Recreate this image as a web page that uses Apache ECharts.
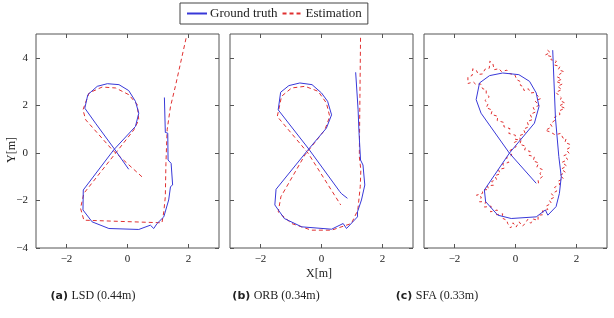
<!DOCTYPE html>
<html><head><meta charset="utf-8">
<script src="https://cdn.jsdelivr.net/npm/echarts@6/dist/echarts.min.js"></script>
<style>html,body{margin:0;padding:0;background:#fff}#c{width:614px;height:318px}</style>
</head><body><div id="c"></div>
<script>
var xTicks = [-2, 0, 2];
var yTicks = [-4, -2, 0, 2, 4];
var captions = [['(a)', 'LSD (0.44m)'], ['(b)', 'ORB (0.34m)'], ['(c)', 'SFA (0.33m)']];

var lsdTruth = [[1.21,2.33],[1.24,0.86],[1.32,0.83],[1.33,-0.3],[1.43,-0.44],[1.48,-1.35],[1.41,-1.42],[1.35,-1.98],[1.19,-2.69],[0.97,-2.97],[0.86,-3.18],[0.75,-3.04],[0.37,-3.22],[-0.61,-3.18],[-1.16,-2.9],[-1.46,-2.4],[-1.45,-1.56],[-0.45,0.13],[0.26,1.11],[0.37,1.67],[0.26,2.17],[0.04,2.62],[-0.28,2.87],[-0.66,2.91],[-0.99,2.8],[-1.3,2.45],[-1.4,1.88],[-1.05,1.25],[-0.45,0.2],[0.04,-0.69]];
var lsdEst = [[1.92,4.82],[1.57,2.8],[1.41,1.95],[1.3,0.97],[1.26,-0.44],[1.24,-1.84],[1.19,-2.48],[1.13,-2.94],[-1.43,-2.83],[-1.54,-2.33],[-1.43,-1.7],[-0.39,-0.01],[0.21,0.97],[0.37,1.39],[0.32,2.03],[0.04,2.45],[-0.39,2.73],[-0.83,2.77],[-1.26,2.52],[-1.46,1.81],[-1.37,1.39],[-0.5,0.13],[0.53,-1.07]];
var orbTruth = [[1.12,3.39],[1.2,1.81],[1.23,0.86],[1.29,0.86],[1.28,-0.3],[1.36,-0.51],[1.42,-1.35],[1.31,-1.98],[1.18,-2.48],[1.18,-2.69],[0.82,-3.18],[0.71,-2.97],[0.33,-3.21],[-0.65,-3.11],[-1.22,-2.76],[-1.53,-2.19],[-1.49,-1.53],[-0.46,0.1],[0.16,1.04],[0.33,1.6],[0.2,2.17],[0,2.52],[-0.31,2.87],[-0.71,2.94],[-1.07,2.83],[-1.34,2.55],[-1.42,1.81],[-0.44,0.2],[0.6,-1.63],[0.66,-1.72],[0.68,-1.7],[0.85,-1.91]];
var orbEst = [[1.28,4.84],[1.26,2.38],[1.24,-0.15],[1.29,-0.72],[1.27,-1.42],[1.19,-2.41],[0.98,-2.97],[0.33,-3.25],[-0.33,-3.25],[-0.98,-2.97],[-1.42,-2.48],[-1.33,-1.84],[-0.54,-0.08],[0.11,0.97],[0.27,1.53],[0.16,2.1],[-0.11,2.59],[-0.54,2.8],[-0.98,2.73],[-1.31,2.38],[-1.45,1.53],[-0.44,-0.01],[0.63,-2.19]];
var sfaTruth = [[1.22,4.32],[1.31,1.46],[1.34,1.44],[1.42,-0.15],[1.5,-1.0],[1.44,-1.7],[1.33,-2.26],[1.06,-2.62],[0.98,-2.4],[0.68,-2.69],[-0.14,-2.76],[-0.58,-2.62],[-0.98,-2.05],[-1.02,-1.56],[-1.07,-1.49],[-0.2,-0.01],[0.62,1.25],[0.77,1.95],[0.68,2.52],[0.46,3.01],[0.11,3.29],[-0.42,3.36],[-0.85,3.25],[-1.18,2.94],[-1.29,2.24],[-1.13,1.67],[-0.2,-0.01],[0.68,-1.28]];
var sfaEst = [[1.05,4.32],[1.14,4.22],[0.98,4.12],[1.2,4.04],[1.16,3.92],[1.34,3.86],[1.26,3.7],[1.46,3.64],[1.4,3.5],[1.58,3.42],[1.44,3.3],[1.36,3.2],[1.52,3.1],[1.34,3.0],[1.54,2.9],[1.38,2.8],[1.52,2.66],[1.32,2.55],[1.42,2.42],[1.5,2.32],[1.46,2.2],[1.62,2.1],[1.44,1.98],[1.62,1.88],[1.42,1.76],[1.46,1.62],[1.28,1.5],[1.32,1.4],[1.14,1.22],[1.2,1.1],[0.98,0.95],[1.14,0.88],[1.3,0.76],[1.48,0.82],[1.56,0.62],[1.66,0.6],[1.62,0.44],[1.78,0.36],[1.76,0.2],[1.66,0.14],[1.76,-0.02],[1.58,-0.12],[1.72,-0.28],[1.52,-0.4],[1.68,-0.55],[1.5,-0.68],[1.64,-0.82],[1.44,-0.95],[1.58,-1.08],[1.38,-1.2],[1.46,-1.32],[1.28,-1.45],[1.36,-1.6],[1.18,-1.72],[1.28,-1.86],[1.1,-1.98],[1.18,-2.12],[1.0,-2.24],[1.06,-2.38],[0.88,-2.44],[0.92,-2.6],[0.74,-2.62],[0.74,-2.84],[0.58,-2.78],[0.5,-2.96],[0.4,-2.8],[0.3,-3.0],[0.22,-3.08],[0.12,-2.9],[0.02,-3.12],[-0.08,-2.94],[-0.16,-3.16],[-0.26,-2.96],[-0.28,-2.84],[-0.44,-2.74],[-0.42,-2.56],[-0.62,-2.6],[-0.6,-2.4],[-0.82,-2.48],[-0.8,-2.24],[-1.02,-2.28],[-0.98,-2.04],[-1.18,-2.06],[-1.12,-1.86],[-1.28,-1.78],[-1.08,-1.7],[-1.08,-1.56],[-0.88,-1.54],[-0.92,-1.38],[-0.72,-1.36],[-0.78,-1.2],[-0.62,-1.12],[-0.68,-0.96],[-0.5,-0.88],[-0.56,-0.7],[-0.36,-0.64],[-0.42,-0.46],[-0.22,-0.4],[-0.3,-0.2],[-0.12,-0.1],[-0.18,0.1],[0.02,0.26],[-0.04,0.44],[0.16,0.56],[0.12,0.72],[0.32,0.82],[0.26,1.0],[0.44,1.1],[0.38,1.32],[0.56,1.4],[0.48,1.62],[0.66,1.72],[0.58,1.9],[0.78,2.0],[0.64,2.18],[0.82,2.28],[0.7,2.44],[0.62,2.54],[0.5,2.52],[0.42,2.7],[0.28,2.62],[0.24,2.8],[0.16,2.84],[0.16,3.0],[0.04,3.08],[-0.02,3.28],[-0.2,3.34],[-0.28,3.48],[-0.46,3.42],[-0.54,3.54],[-0.7,3.5],[-0.74,3.74],[-0.84,3.86],[-0.86,3.56],[-1.0,3.52],[-1.08,3.32],[-1.22,3.3],[-1.28,3.46],[-1.4,3.54],[-1.42,3.26],[-1.56,3.18],[-1.56,2.92],[-1.5,3.0],[-1.38,2.98],[-1.3,2.88],[-1.14,2.9],[-1.08,2.7],[-0.96,2.66],[-0.96,2.46],[-0.86,2.36],[-1.0,2.2],[-0.9,2.06],[-0.96,1.9],[-0.76,1.8],[-0.8,1.62],[-0.58,1.54],[-0.6,1.36],[-0.38,1.28],[-0.38,1.1],[-0.18,1.02],[-0.22,0.82],[0.0,0.74],[-0.02,0.58],[0.18,0.52],[0.14,0.36],[0.34,0.28],[0.3,0.12],[0.48,0.06],[0.44,-0.1],[0.62,-0.16],[0.58,-0.34],[0.76,-0.42],[0.7,-0.6],[0.88,-0.7],[0.8,-0.88],[0.9,-0.98],[0.74,-1.14],[0.76,-1.32]];

var truths = [lsdTruth, orbTruth, sfaTruth];
var ests = [lsdEst, orbEst, sfaEst];

var SERIF = '"Liberation Serif", "DejaVu Serif", serif';
var AX = '#555';
var lefts = [36, 230, 424];
function fmt(v){ return v < 0 ? '\u2212' + Math.abs(v) : String(v); }

var grids = [], xAxes = [], yAxes = [], series = [];
for (var i = 0; i < 3; i++) {
  grids.push({left: lefts[i], top: 34, width: 183, height: 214, show: true, borderColor: AX, borderWidth: 1, backgroundColor: 'transparent'});
  [false, true].forEach(function(top){
    xAxes.push({type: 'value', gridIndex: i, min: -3, max: 3, position: top ? 'top' : 'bottom',
      axisLine: {show: false, onZero: false}, splitLine: {show: false},
      axisTick: {show: true, inside: true, length: 4, lineStyle: {color: AX}, customValues: xTicks},
      axisLabel: {show: !top, customValues: xTicks, formatter: fmt, fontFamily: SERIF, fontSize: 11, color: '#222', margin: 6}});
    yAxes.push({type: 'value', gridIndex: i, min: -4, max: 5, position: top ? 'right' : 'left',
      axisLine: {show: false, onZero: false}, splitLine: {show: false},
      axisTick: {show: true, inside: true, length: 4, lineStyle: {color: AX}, customValues: yTicks},
      axisLabel: {show: (!top && i === 0), customValues: yTicks, formatter: fmt, fontFamily: SERIF, fontSize: 11, color: '#222', margin: 8}});
  });
  series.push({name: 'Ground truth', type: 'line', xAxisIndex: 2*i, yAxisIndex: 2*i, data: truths[i],
    showSymbol: false, symbol: 'none', lineStyle: {color: '#3838d8', width: 1}, itemStyle: {color: '#3838d8'}, animation: false, z: 3});
  series.push({name: 'Estimation', type: 'line', xAxisIndex: 2*i, yAxisIndex: 2*i, data: ests[i],
    showSymbol: false, symbol: 'none', lineStyle: {color: '#e03030', width: 1, type: i === 2 ? [3, 3] : [4, 3]}, itemStyle: {color: '#e03030'}, animation: false, z: 2});
}

var capCenters = [93, 276, 437];
var graphics = [
  {type: 'text', left: 321 - 15, top: 268, style: {text: 'X[m]', font: '12px ' + SERIF, fill: '#222'}},
  {type: 'text', x: 12, y: 150, rotation: Math.PI/2, style: {text: 'Y[m]', font: '12px ' + SERIF, fill: '#222', align: 'center', verticalAlign: 'middle'}}
];
captions.forEach(function(c, i){
  graphics.push({type: 'text', x: capCenters[i], y: 296, style: {
    text: '{b|' + c[0] + '} {s|' + c[1] + '}', align: 'center', verticalAlign: 'middle',
    rich: {b: {fontFamily: '"DejaVu Sans", "Noto Sans", sans-serif', fontWeight: 'bold', fontSize: 11, fill: '#222'},
           s: {fontFamily: SERIF, fontSize: 12, fill: '#222'}}}});
});

var chart = echarts.init(document.getElementById('c'), null, {renderer: 'canvas'});
chart.setOption({
  animation: false,
  legend: {left: 180, top: 3, padding: [4, 6], itemGap: 4, itemWidth: 20, itemHeight: 10,
    borderColor: '#444', borderWidth: 1, borderRadius: 0,
    itemStyle: {opacity: 0},
    textStyle: {fontFamily: SERIF, fontSize: 13, color: '#222', padding: [0, 0, 0, -2]},
    data: ['Ground truth', 'Estimation']},
  grid: grids, xAxis: xAxes, yAxis: yAxes, series: series, graphic: graphics
});
</script></body></html>
